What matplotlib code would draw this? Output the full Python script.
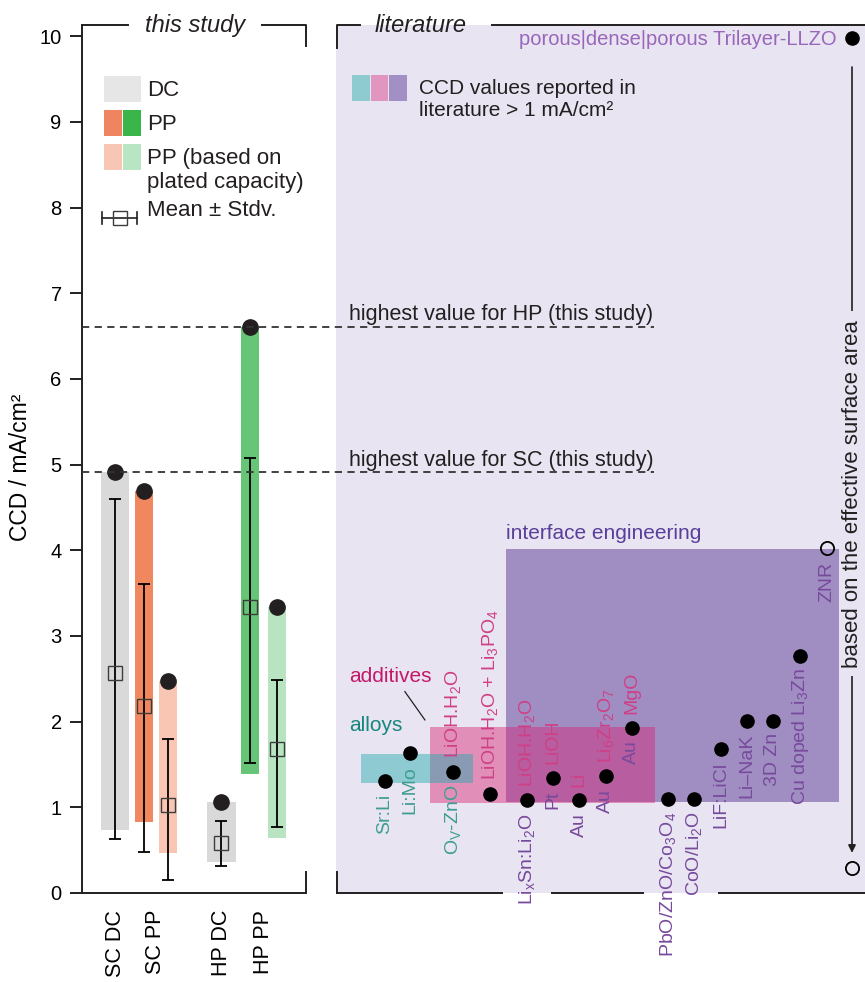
import matplotlib
matplotlib.use("Agg")
import matplotlib.pyplot as plt
from matplotlib.lines import Line2D
from matplotlib.patches import Rectangle

plt.rcParams["font.family"] = ["Liberation Sans", "DejaVu Sans"]
plt.rcParams["mathtext.fontset"] = "custom"
plt.rcParams["mathtext.rm"] = "Liberation Sans"
plt.rcParams["mathtext.it"] = "Liberation Sans:italic"
plt.rcParams["mathtext.default"] = "regular"

W, H = 865, 982
INK = "#231F20"
LAVENDER = "#E8E4F1"

# ---- this study: CCD range (min..max), mean and stdv ends ----
groups = ["SC DC", "SC PP", "SC PP plated", "HP DC", "HP PP", "HP PP plated"]
ccd_min = [0.73, 0.83, 0.47, 0.365, 1.39, 0.645]
ccd_max = [4.91, 4.69, 2.47, 1.06, 6.61, 3.34]
ccd_mean = [2.57, 2.18, 1.03, 0.58, 3.34, 1.68]
stdv_low = [0.63, 0.48, 0.155, 0.32, 1.52, 0.77]
stdv_high = [4.60, 3.61, 1.80, 0.84, 5.08, 2.48]
tick_labels = ["SC DC", "SC PP", "HP DC", "HP PP"]

# ---- literature ----
lit_below = ["Sr:Li", "Li:Mo", r"O$_V$-ZnO", "", r"Li$_x$Sn:Li$_2$O", "Pt", "Au", "Au", "Au",
             r"PbO/ZnO/Co$_3$O$_4$", r"CoO/Li$_2$O", "LiF:LiCl", "Li–NaK", "3D Zn",
             r"Cu doped Li$_3$Zn"]
lit_above = ["", "", r"LiOH.H$_2$O", r"LiOH.H$_2$O + Li$_3$PO$_4$", r"LiOH.H$_2$O", "LiOH", "Li",
             r"Li$_6$Zr$_2$O$_7$", "MgO", "", "", "", "", "", ""]
lit_ccd = [1.31, 1.63, 1.41, 1.16, 1.08, 1.34, 1.08, 1.36, 1.93, 1.10, 1.10, 1.68, 2.01, 2.01, 2.77]
lit_group = ["alloys"] * 3 + ["interface"] * 12

znr_ccd = 4.03            # hollow, based on effective surface area
llzo_ccd = 9.98           # porous|dense|porous trilayer
llzo_geo_ccd = 0.29       # same cell, geometric area

region_names = ["interface engineering", "additives", "alloys"]
region_x = [(6.54, 19.35), (3.62, 12.27), (0.96, 5.27)]
region_ccd = [(1.06, 4.02), (1.05, 1.94), (1.28, 1.62)]

# layout (slot positions on the two x axes)
BAR_X = [1.14, 2.14, 2.97, 4.81, 5.79, 6.72]
BAR_W = [0.97, 0.62, 0.62, 1.0, 0.62, 0.62]
BAR_C = ["#D9D9D9", "#F0875F", "#F8C6B3", "#D9D9D9", "#66C576", "#B8E4C1"]
LIT_X = [1.885, 2.85, 4.5, 5.92, 7.35, 8.35, 9.35, 10.37, 11.38, 12.77, 13.77, 14.81,
         15.81, 16.81, 17.85]
ZNR_X, LLZO_X = 18.88, 19.85
REGION_C = [("#A08DC2", 1.0), ("#D81E71", 0.43), ("#1EACAA", 0.45)]


def fx(x):
    return x / W


def fy(y):
    return 1 - y / H


def fig_line(pts, lw=1.4):
    fig.add_artist(Line2D([fx(p[0]) for p in pts], [fy(p[1]) for p in pts],
                          transform=fig.transFigure, color=INK, lw=lw))


fig = plt.figure(figsize=(W / 100, H / 100), dpi=100)
axl = fig.add_axes([fx(82), fy(893), (305 - 82) / W, (893 - 25) / H])
axr = fig.add_axes([fx(336), fy(893), (865 - 336) / W, (893 - 25) / H])
YMAX = 10.13

# ---------------- left panel ----------------
axl.bar(BAR_X, [b - a for a, b in zip(ccd_min, ccd_max)], bottom=ccd_min, width=BAR_W,
        color=BAR_C, zorder=1)
axl.errorbar(BAR_X, ccd_mean,
             yerr=[[m - lo for m, lo in zip(ccd_mean, stdv_low)],
                   [hi - m for m, hi in zip(ccd_mean, stdv_high)]],
             fmt="none", ecolor="black", elinewidth=1.3, capsize=4.3, capthick=1.3, zorder=2)
axl.plot(BAR_X, ccd_mean, ls="none", marker="s", ms=10, mfc="none", mec="#3C3C3C", mew=1.0,
         zorder=3)
axl.plot(BAR_X, ccd_max, ls="none", marker="o", ms=11, color=INK, zorder=4)

sc_best = max(ccd_max[:3])
hp_best = max(ccd_max[3:])
for v in (hp_best, sc_best):
    axl.plot([0, 19.76], [v, v], ls=(0, (4, 3)), lw=1.3, color="#333333", clip_on=False,
             zorder=5)

tick_x = [BAR_X[0], (BAR_X[1] + BAR_X[2]) / 2, BAR_X[3], (BAR_X[4] + BAR_X[5]) / 2]
axl.set_xlim(0, 7.7)
axl.set_ylim(0, YMAX)
axl.set_yticks(range(11))
axl.tick_params(axis="y", direction="out", length=8.6, width=1.4, labelsize=14.5, pad=6,
                color=INK)
axl.set_xticks(tick_x)
axl.set_xticklabels(tick_labels, rotation=90, fontsize=15.5)
axl.tick_params(axis="x", length=0, pad=12)
for s in ("top", "right"):
    axl.spines[s].set_visible(False)
for s in ("left", "bottom"):
    axl.spines[s].set_linewidth(1.4)
    axl.spines[s].set_color(INK)
axl.set_ylabel("CCD / mA/cm²", fontsize=16.5)
axl.yaxis.set_label_coords(-0.225, 0.49)
axl.set_zorder(3)
axl.patch.set_visible(False)

# ---------------- right panel ----------------
axr.set_xlim(0, 20.35)
axr.set_ylim(0, YMAX)
axr.set_facecolor(LAVENDER)
for s in axr.spines.values():
    s.set_visible(False)
axr.set_xticks([])
axr.set_yticks([])

for (x0, x1), (y0, y1), (c, a) in zip(region_x, region_ccd, REGION_C):
    axr.add_patch(Rectangle((x0, y0), x1 - x0, y1 - y0, facecolor=c, alpha=a, lw=0, zorder=1))

axr.text(region_x[0][0], 4.13, "interface engineering", color="#5A3E9B", fontsize=15,
         va="baseline")
axr.text(0.5, 2.46, "additives", color="#C4186A", fontsize=15, va="baseline")
axr.text(0.5, 1.89, "alloys", color="#16877D", fontsize=15, va="baseline")
axr.plot([2.65, 3.42], [2.35, 2.02], color=INK, lw=0.9, zorder=2)

for v, who in ((hp_best, "HP"), (sc_best, "SC")):
    axr.annotate(f"highest value for {who} (this study)", (0.5, v), xytext=(0, 4.5),
                 textcoords="offset points", fontsize=15.5, va="baseline", color=INK)

axr.plot(LIT_X, lit_ccd, ls="none", marker="o", ms=9.5, color="black", zorder=3)

below_texts = []
for x, y, lb, la, g in zip(LIT_X, lit_ccd, lit_below, lit_above, lit_group):
    if lb:
        below_texts.append(axr.annotate(
            lb, (x, y), xytext=(0, -9), textcoords="offset points", rotation=90,
            ha="center", va="top", fontsize=14,
            color="#3E9E93" if g == "alloys" else "#774A9C", zorder=4))
    if la:
        axr.annotate(la, (x, y), xytext=(0, 10), textcoords="offset points", rotation=90,
                     ha="center", va="bottom", fontsize=14, color="#CF3F85", zorder=4)

axr.plot([ZNR_X], [znr_ccd], ls="none", marker="o", ms=9.5, mfc="none", mec="black",
         mew=1.3, zorder=3)
below_texts.append(axr.annotate("ZNR", (ZNR_X, znr_ccd), xytext=(0, -10),
                                textcoords="offset points", rotation=90, ha="center",
                                va="top", fontsize=14, color="#774A9C", zorder=4))

axr.plot([LLZO_X], [llzo_ccd], ls="none", marker="o", ms=9.5, color="black", zorder=3)
axr.annotate("porous|dense|porous Trilayer-LLZO", (LLZO_X, llzo_ccd), xytext=(-11, -1),
             textcoords="offset points", ha="right", va="center", fontsize=14.5,
             color="#9966BB", zorder=4)
axr.plot([LLZO_X], [llzo_geo_ccd], ls="none", marker="o", ms=9.5, mfc="none", mec="black",
         mew=1.3, zorder=3)
axr.annotate("", xy=(LLZO_X, llzo_geo_ccd), xytext=(LLZO_X, llzo_ccd),
             arrowprops=dict(arrowstyle="-|>", color=INK, lw=1.2, shrinkA=21, shrinkB=11,
                             mutation_scale=11), zorder=0.4)
# lavender box that breaks the arrow line, kept under the purple region
side_note = "based on the effective surface area"
axr.text(LLZO_X, 4.66, side_note, rotation=90, ha="center", va="center", fontsize=16,
         color=LAVENDER, alpha=0.0, zorder=0.5,
         bbox=dict(facecolor=LAVENDER, edgecolor="none", pad=6, alpha=1.0))
axr.text(LLZO_X, 4.66, side_note, rotation=90, ha="center", va="center", fontsize=16,
         color=INK, zorder=4)

# ---------------- frames and titles ----------------
fig_line([(82, 25), (128, 25)])
fig_line([(262, 25), (306, 25), (306, 46)])
fig_line([(306, 872), (306, 893)])
fig_line([(337, 48), (337, 25), (360, 25)])
fig_line([(492, 25), (865, 25)])
fig_line([(337, 872), (337, 893)])
fig.text(fx(195), fy(32), "this study", style="italic", fontsize=17, ha="center",
         va="baseline", color=INK)
fig.text(fx(421), fy(32), "literature", style="italic", fontsize=17, ha="center",
         va="baseline", color=INK)


# ---------------- legends ----------------
def legend_row(x, top, colors, width, label, size):
    n = len(colors)
    w = (width - (n - 1)) / n
    for i, c in enumerate(colors):
        fig.add_artist(Rectangle((fx(x + i * (w + 1)), fy(top + 26)), w / W, 26 / H,
                                 transform=fig.transFigure, facecolor=c, lw=0))
    fig.text(fx(x + width + 6 + (6 if size < 16 else 0)), fy(top + 4), label, fontsize=size,
             va="top", ha="left", color=INK, linespacing=1.2)


legend_row(104, 76, ["#E6E6E6"], 37, "DC", 16)
legend_row(104, 110, ["#EF8560", "#39B54A"], 37, "PP", 16)
legend_row(104, 144, ["#F8C6B4", "#B9E5C2"], 37, "PP (based on\nplated capacity)", 16)
fig_line([(102, 218), (137, 218)], lw=1.2)
fig_line([(102, 212), (102, 224)], lw=1.2)
fig_line([(137, 212), (137, 224)], lw=1.2)
fig.add_artist(Line2D([fx(120)], [fy(218)], transform=fig.transFigure, marker="s", ms=10,
                      mfc="none", mec="#3C3C3C", mew=1.0))
fig.text(fx(147), fy(200), "Mean ± Stdv.", fontsize=16, va="top", color=INK)

legend_row(352, 75, ["#8ECBD1", "#E096BF", "#A28FC4"], 55,
           "CCD values reported in\nliterature > 1 mA/cm²", 15)

# ---------------- bottom line of literature panel, broken where labels cross ----------------
fig.canvas.draw()
inv = axr.transData.inverted()
spans = []
for t in below_texts:
    bb = t.get_window_extent()
    (x0, y0), (x1, _) = inv.transform([(bb.x0, bb.y0), (bb.x1, bb.y1)])
    if y0 < 0:
        spans.append([x0 - 0.55, x1 + 0.55])
spans.sort()
merged = []
for s in spans:
    if merged and s[0] <= merged[-1][1]:
        merged[-1][1] = max(merged[-1][1], s[1])
    else:
        merged.append(s)
edges = [0] + [v for s in merged for v in s] + [axr.get_xlim()[1]]
for a, b in zip(edges[::2], edges[1::2]):
    axr.plot([a, b], [0, 0], color=INK, lw=1.4, clip_on=False, zorder=5,
             solid_capstyle="butt")

fig.savefig("out.png", dpi=100)
